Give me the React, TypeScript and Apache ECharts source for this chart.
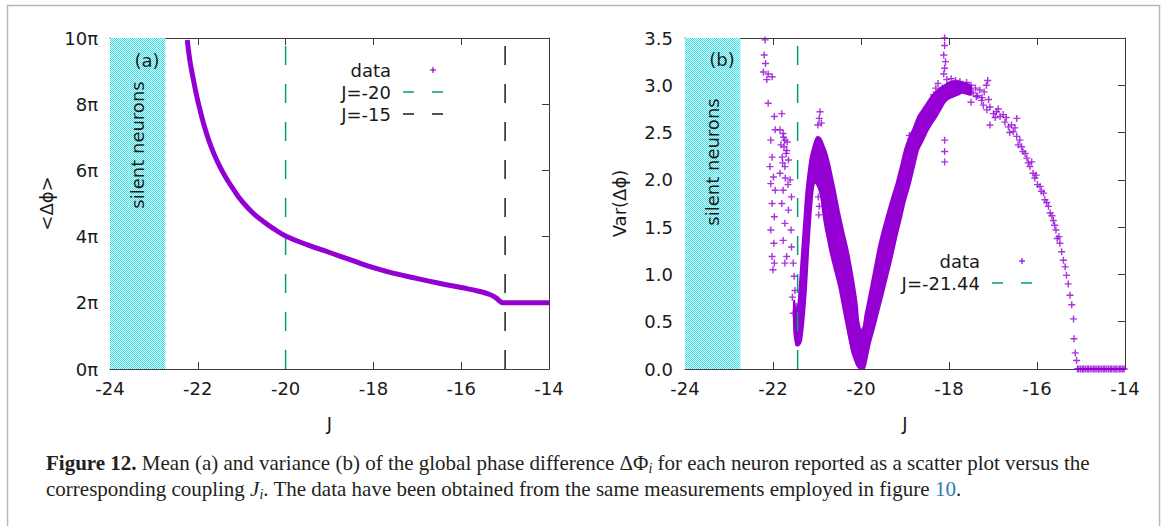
import React, { useEffect, useRef } from "react";
import * as echarts from "echarts";

// ---------- axes ----------
const J_MIN = -24;
const J_MAX = -14;
const J_STEP = 2;
const MEAN_MAX = 10;
const MEAN_STEP = 2;
const VAR_MAX = 3.5;
const VAR_STEP = 0.5;
const SILENT_EDGE = -22.74;

// ---------- panel (a): mean phase difference (in units of pi) ----------
const meanJ = [
  -22.24, -22.18, -22.1, -22.03, -21.95, -21.87, -21.76, -21.65, -21.5, -21.34,
  -21.15, -21.0, -20.75, -20.5, -20.25, -20.0, -19.5, -19.0, -18.5, -18.0,
  -17.5, -17.0, -16.5, -16.0, -15.6, -15.35, -15.2, -15.12, -15.05, -14.5, -14.0,
];
const meanPhase = [
  9.94, 9.32, 8.74, 8.28, 7.83, 7.42, 6.95, 6.56, 6.12, 5.74,
  5.35, 5.08, 4.72, 4.45, 4.22, 4.02, 3.75, 3.52, 3.29, 3.06,
  2.88, 2.73, 2.59, 2.46, 2.35, 2.25, 2.14, 2.05, 2.0, 2.0, 2.0,
];
const refLinesA = [-20, -15];
const refNamesA = ["J=-20", "J=-15"];

// ---------- panel (b): variance ----------
// dense band: for each J, the lowest and highest variance of the packed points
const bandJ = [
  -21.52, -21.47, -21.42, -21.36, -21.3, -21.25, -21.2, -21.15, -21.1, -21.05,
  -21.0, -20.95, -20.9, -20.85, -20.8, -20.75, -20.7, -20.6, -20.5, -20.4,
  -20.3, -20.2, -20.1, -20.06, -20.0, -19.94, -19.9, -19.8, -19.7, -19.6,
  -19.5, -19.4, -19.3, -19.2, -19.1, -19.0, -18.9, -18.8, -18.7, -18.6,
  -18.5, -18.4, -18.3, -18.2, -18.1, -18.0, -17.9, -17.8, -17.7, -17.6, -17.5,
];
const bandLo = [
  0.42, 0.25, 0.25, 0.3, 0.55, 0.85, 1.26, 1.6, 1.88, 1.98,
  1.95, 1.9, 1.8, 1.62, 1.48, 1.37, 1.25, 1.06, 0.88, 0.64,
  0.4, 0.18, 0.05, 0.02, 0.0, 0.0, 0.05, 0.27, 0.44, 0.62,
  0.8, 0.99, 1.18, 1.39, 1.58, 1.78, 1.94, 2.13, 2.32, 2.41,
  2.51, 2.59, 2.66, 2.74, 2.82, 2.86, 2.88, 2.9, 2.92, 2.91, 2.9,
];
const bandHi = [
  0.72, 0.58, 0.7, 1.1, 1.5, 1.83, 2.05, 2.22, 2.32, 2.4,
  2.45, 2.45, 2.42, 2.36, 2.3, 2.22, 2.12, 1.9, 1.66, 1.45,
  1.25, 1.0, 0.7, 0.5, 0.4, 0.45, 0.57, 0.8, 1.04, 1.28,
  1.47, 1.64, 1.8, 1.95, 2.13, 2.32, 2.45, 2.55, 2.67, 2.74,
  2.81, 2.88, 2.93, 2.97, 3.0, 3.03, 3.04, 3.04, 3.03, 3.02, 2.99,
];
// isolated points [J, Var]
const varScatter: [number, number][] = [
  [-22.18, 3.48], [-22.2, 3.32], [-22.17, 3.23], [-22.22, 3.14], [-22.11, 3.12], [-22.14, 3.06],
  [-22.02, 3.09], [-22.11, 2.81], [-21.97, 2.67], [-21.95, 2.53], [-22.05, 2.42], [-22.02, 2.24],
  [-22.07, 2.14], [-21.99, 2.03], [-22.05, 1.96], [-21.95, 1.89], [-22.02, 1.75], [-21.97, 1.61],
  [-22.05, 1.47], [-21.98, 1.33], [-22.02, 1.19], [-21.97, 1.12], [-22.0, 1.05],
  [-21.8, 2.7], [-21.84, 2.53], [-21.77, 2.49], [-21.73, 2.42], [-21.82, 2.37], [-21.69, 2.31],
  [-21.79, 2.24], [-21.65, 2.21], [-21.73, 2.14], [-21.84, 2.07], [-21.61, 2.0], [-21.77, 1.89],
  [-21.58, 1.82], [-21.8, 1.75], [-21.65, 1.68], [-21.73, 1.54], [-21.59, 1.47], [-21.77, 1.36],
  [-21.58, 1.29], [-21.69, 1.19], [-21.54, 1.12], [-21.73, 1.12], [-21.75, 2.35], [-21.7, 2.28],
  [-21.78, 2.18], [-21.68, 2.4], [-21.76, 2.45], [-21.72, 2.02], [-21.66, 1.95],
  [-21.52, 0.98], [-21.5, 0.83], [-21.56, 0.76], [-21.46, 0.66], [-21.54, 0.59],
  [-20.93, 2.72], [-20.95, 2.65], [-20.9, 2.6], [-20.98, 2.58], [-20.97, 1.82], [-20.95, 1.72], [-20.96, 1.63],
  [-18.9, 2.47], [-18.87, 2.43],
  [-18.1, 3.5], [-18.1, 3.42], [-18.12, 3.32], [-18.08, 3.25], [-18.1, 3.18], [-18.12, 3.12],
  [-18.1, 2.42], [-18.1, 2.3], [-18.1, 2.19],
  [-18.35, 2.9], [-18.3, 2.97], [-18.25, 3.02], [-18.2, 2.84], [-18.15, 2.97], [-18.05, 3.06],
  [-18.0, 2.95], [-17.95, 3.07], [-17.9, 3.0], [-17.85, 3.05], [-17.8, 2.94], [-17.75, 3.04],
  [-17.7, 2.98], [-17.65, 2.95], [-17.6, 3.03], [-17.55, 2.93], [-17.5, 3.0], [-17.45, 2.92],
  [-17.4, 2.97], [-17.35, 2.89], [-17.3, 2.95], [-17.25, 2.87], [-17.2, 2.93], [-17.15, 3.0],
  [-17.12, 3.05], [-17.1, 2.85], [-17.5, 2.82], [-17.38, 2.88], [-17.26, 2.84], [-17.07, 2.58],
  [-17.22, 2.79], [-17.14, 2.74], [-17.07, 2.77], [-16.99, 2.7], [-16.92, 2.72], [-16.84, 2.67],
  [-16.77, 2.69], [-16.73, 2.61], [-16.65, 2.56], [-16.58, 2.58], [-16.54, 2.51], [-16.46, 2.65],
  [-16.46, 2.46], [-16.39, 2.42], [-16.43, 2.37], [-16.35, 2.35], [-16.27, 2.28], [-16.23, 2.23],
  [-16.16, 2.14], [-16.12, 2.19], [-16.09, 2.07], [-16.05, 2.02], [-15.99, 1.95], [-15.93, 1.93],
  [-15.85, 1.86], [-15.82, 1.79], [-15.74, 1.72], [-15.7, 1.65], [-15.63, 1.57], [-15.57, 1.47],
  [-15.54, 1.38], [-15.48, 1.33], [-15.44, 1.24], [-15.4, 1.15], [-15.36, 1.08], [-15.33, 0.99],
  [-15.29, 0.9], [-15.25, 0.78], [-15.21, 0.68], [-15.17, 0.53], [-15.16, 0.32], [-15.13, 0.17],
  [-15.1, 0.09], [-16.95, 2.66], [-16.88, 2.75], [-16.7, 2.66], [-16.62, 2.5], [-16.5, 2.55],
  [-16.32, 2.3], [-16.2, 2.18], [-16.02, 2.05], [-15.9, 1.88], [-15.78, 1.76], [-15.66, 1.62],
  [-15.6, 1.52], [-15.5, 1.4],
];
// neurons past J=-15 with zero variance
const zeroJ = [
  -15.08, -15.05, -15.01, -14.97, -14.94, -14.9, -14.86, -14.83, -14.79, -14.75,
  -14.71, -14.68, -14.64, -14.6, -14.57, -14.53, -14.49, -14.46, -14.42, -14.38,
  -14.34, -14.31, -14.27, -14.23, -14.2, -14.16, -14.12, -14.09, -14.05, -14.02,
];
const refLinesB = [-21.44];
const refNamesB = ["J=-21.44"];

// ---------- styles ----------
const PURPLE = "#9400d3";
const GREEN = "#009e73";
const DARK = "#1a1a1a";
const AXIS = "#3c3c3c";
const FONT = "DejaVu Sans";
const SERIF = "Liberation Serif";
const PLUS = "path://M4 0H6V4H10V6H6V10H4V6H0V4H4Z";
const DASH = [19, 19];

function checker() {
  const c = document.createElement("canvas");
  c.width = 2;
  c.height = 2;
  const ctx = c.getContext("2d")!;
  ctx.fillStyle = "#e2fbfc";
  ctx.fillRect(0, 0, 2, 2);
  ctx.fillStyle = "#3adfea";
  ctx.fillRect(0, 0, 1, 1);
  ctx.fillRect(1, 1, 1, 1);
  return c;
}

function xAxes(gridIndex: number) {
  const base = {
    gridIndex,
    type: "value",
    min: J_MIN,
    max: J_MAX,
    interval: J_STEP,
    splitLine: { show: false },
    axisLine: { show: true, onZero: false, lineStyle: { color: AXIS, width: 1 } },
    axisTick: { show: true, inside: true, length: 7, lineStyle: { color: AXIS } },
  };
  return [
    {
      ...base,
      position: "bottom",
      axisLabel: { fontSize: 18, fontFamily: FONT, color: DARK, margin: 10 },
      name: "J",
      nameLocation: "middle",
      nameGap: 45,
      nameTextStyle: { fontSize: 18, fontFamily: FONT, color: DARK },
    },
    { ...base, position: "top", axisLabel: { show: false } },
  ];
}

function yAxes(gridIndex: number, max: number, step: number, name: string, gap: number, fmt: (v: number) => string) {
  const base = {
    gridIndex,
    type: "value",
    min: 0,
    max,
    interval: step,
    splitLine: { show: false },
    axisLine: { show: true, onZero: false, lineStyle: { color: AXIS, width: 1 } },
    axisTick: { show: true, inside: true, length: 7, lineStyle: { color: AXIS } },
  };
  return [
    {
      ...base,
      position: "left",
      axisLabel: { fontSize: 18, fontFamily: FONT, color: DARK, margin: 12, formatter: fmt },
      name,
      nameLocation: "middle",
      nameGap: gap,
      nameTextStyle: { fontSize: 18, fontFamily: FONT, color: DARK },
    },
    { ...base, position: "right", axisLabel: { show: false } },
  ];
}

function silentArea(labelY: number, pattern: any) {
  return {
    silent: true,
    itemStyle: { color: pattern },
    label: {
      show: true,
      position: ["50%", labelY],
      rotate: 90,
      align: "center",
      verticalAlign: "middle",
      fontSize: 18,
      fontFamily: FONT,
      color: DARK,
    },
    data: [[{ xAxis: J_MIN, name: "silent neurons" }, { xAxis: SILENT_EDGE }]],
  };
}

function legendGraphics(textRight: number, rows: { name: string; y: number; kind: "plus" | "dash"; color: string }[]) {
  const els: any[] = [];
  rows.forEach((r) => {
    els.push({
      type: "text",
      x: textRight,
      y: r.y,
      style: { text: r.name, align: "right", verticalAlign: "middle", fontSize: 18, fontFamily: FONT, fill: DARK },
    });
    if (r.kind === "plus") {
      const cx = textRight + 42;
      els.push({ type: "line", shape: { x1: cx - 3, y1: r.y, x2: cx + 3, y2: r.y }, style: { stroke: r.color, lineWidth: 1.2 } });
      els.push({ type: "line", shape: { x1: cx, y1: r.y - 3, x2: cx, y2: r.y + 3 }, style: { stroke: r.color, lineWidth: 1.2 } });
    } else {
      els.push({
        type: "line",
        shape: { x1: textRight + 12, y1: r.y, x2: textRight + 62, y2: r.y },
        style: { stroke: r.color, lineWidth: 1.6, lineDash: [11, 18] },
      });
    }
  });
  return els;
}

function buildOption() {
  const pattern = { image: checker(), repeat: "repeat", imageWidth: 2, imageHeight: 2 };
  const plus = { symbol: PLUS, symbolSize: 7, itemStyle: { color: PURPLE } };

  const series: any[] = [
    {
      type: "line",
      name: "data",
      xAxisIndex: 0,
      yAxisIndex: 0,
      data: meanJ.map((j, i) => [j, meanPhase[i]]),
      smooth: 0.5,
      showSymbol: false,
      ...plus,
      lineStyle: { color: PURPLE, width: 5 },
      markArea: silentArea(107, pattern),
      z: 3,
    },
    ...refLinesA.map((j, i) => ({
      type: "line",
      name: refNamesA[i],
      xAxisIndex: 0,
      yAxisIndex: 0,
      data: [[j, 0], [j, MEAN_MAX]],
      symbol: "none",
      lineStyle: { color: i === 0 ? GREEN : DARK, width: 1.5, type: DASH },
      z: 2,
    })),
    {
      type: "custom",
      name: "data",
      xAxisIndex: 2,
      yAxisIndex: 2,
      coordinateSystem: "cartesian2d",
      data: [[bandJ[0], bandLo[0]]],
      clip: true,
      silent: true,
      z: 3,
      renderItem: (_params: any, api: any) => {
        const pts: number[][] = [];
        for (let i = 0; i < bandJ.length; i++) pts.push(api.coord([bandJ[i], bandHi[i]]));
        for (let i = bandJ.length - 1; i >= 0; i--) pts.push(api.coord([bandJ[i], bandLo[i]]));
        return {
          type: "polygon",
          shape: { points: pts, smooth: 0.2 },
          style: { fill: PURPLE, stroke: PURPLE, lineWidth: 2 },
        };
      },
    },
    {
      type: "scatter",
      name: "data",
      xAxisIndex: 2,
      yAxisIndex: 2,
      data: [...varScatter, ...zeroJ.map((j) => [j, 0])],
      ...plus,
      markArea: silentArea(124, pattern),
      z: 4,
    },
    ...refLinesB.map((j, i) => ({
      type: "line",
      name: refNamesB[i],
      xAxisIndex: 2,
      yAxisIndex: 2,
      data: [[j, 0], [j, VAR_MAX]],
      symbol: "none",
      lineStyle: { color: GREEN, width: 1.5, type: DASH },
      z: 5,
    })),
  ];

  const graphic: any[] = [
    {
      type: "rect",
      shape: { x: 7.5, y: 5.5, width: 1152, height: 540 },
      style: { fill: "none", stroke: "#b8b8b8", lineWidth: 1.5 },
      silent: true,
      z: -10,
    },
    { type: "text", x: 147, y: 60, style: { text: "(a)", align: "center", verticalAlign: "middle", fontSize: 18, fontFamily: FONT, fill: DARK }, z: 10 },
    { type: "text", x: 722, y: 59, style: { text: "(b)", align: "center", verticalAlign: "middle", fontSize: 18, fontFamily: FONT, fill: DARK }, z: 10 },
    ...legendGraphics(391, [
      { name: "data", y: 70, kind: "plus", color: PURPLE },
      { name: refNamesA[0], y: 92, kind: "dash", color: GREEN },
      { name: refNamesA[1], y: 114, kind: "dash", color: DARK },
    ]),
    ...legendGraphics(980, [
      { name: "data", y: 261, kind: "plus", color: PURPLE },
      { name: refNamesB[0], y: 283, kind: "dash", color: GREEN },
    ]),
    {
      type: "text",
      x: 46,
      y: 450,
      style: {
        text:
          "{b|Figure 12.} Mean (a) and variance (b) of the global phase difference ΔΦ{sub|i} for each neuron reported as a scatter plot versus the\n" +
          "corresponding coupling {it|J}{sub|i}. The data have been obtained from the same measurements employed in figure {link|10}.",
        fontSize: 21,
        fontFamily: SERIF,
        fill: "#231f20",
        lineHeight: 26,
        verticalAlign: "top",
        rich: {
          b: { fontSize: 21, fontFamily: SERIF, fontWeight: "bold", fill: "#231f20", lineHeight: 26 },
          it: { fontSize: 21, fontFamily: SERIF, fontStyle: "italic", fill: "#231f20", lineHeight: 26 },
          sub: { fontSize: 14, fontFamily: SERIF, fontStyle: "italic", fill: "#231f20", padding: [10, 0, 0, 0], lineHeight: 26 },
          link: { fontSize: 21, fontFamily: SERIF, fill: "#2b7bb9", lineHeight: 26 },
        },
      },
    },
  ];

  return {
    animation: false,
    backgroundColor: "#ffffff",
    grid: [
      { left: 110, top: 38, width: 439, height: 331, containLabel: false },
      { left: 685, top: 38, width: 440, height: 331, containLabel: false },
    ],
    xAxis: [...xAxes(0), ...xAxes(1)],
    yAxis: [
      ...yAxes(0, MEAN_MAX, MEAN_STEP, "<Δϕ>", 55, (v: number) => `${v}π`),
      ...yAxes(1, VAR_MAX, VAR_STEP, "Var(Δϕ)", 57, (v: number) => v.toFixed(1)),
    ],
    series,
    graphic,
  };
}

export default function App() {
  const ref = useRef<HTMLDivElement>(null);
  useEffect(() => {
    const chart = echarts.init(ref.current!, null, { renderer: "svg" });
    chart.setOption(buildOption() as any);
    return () => chart.dispose();
  }, []);
  return (
    <div
      ref={ref}
      style={{ position: "absolute", left: 0, top: 0, width: 1167, height: 526, background: "#fff" }}
    />
  );
}
